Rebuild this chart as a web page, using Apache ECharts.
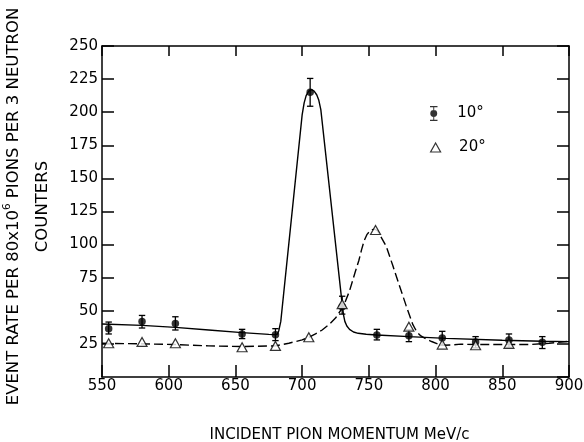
<!DOCTYPE html>
<html><head><meta charset="utf-8">
<script src="https://cdn.jsdelivr.net/npm/echarts@6/dist/echarts.min.js"></script>
<style>html,body{margin:0;padding:0;background:#fff}#c{width:584px;height:442px}</style>
</head><body><div id="c"></div>
<script>
// ---- data ----
const xMin = 550, xMax = 900, xStep = 50;
const yMin = 0, yMax = 250, yStep = 25;

// 10 degrees: measured points with error bars
const momentum10 = [555, 580, 605, 655, 680, 706, 730, 756, 780, 805, 830, 855, 880];
const rate10     = [36.5, 42, 40.5, 32.5, 32, 215, 53, 31.7, 31.2, 29.5, 26.5, 28, 26.2];
const rate10Low  = [32.5, 37, 35.5, 29, 27.5, 204.5, 47.5, 28, 26.7, 24, 22, 22.5, 21.5];
const rate10High = [41.5, 46.5, 45.5, 36, 36.5, 225.5, 61, 36, 35.7, 34.5, 30.5, 32.5, 30.5];

// 20 degrees: measured points
const momentum20 = [555, 580, 605, 655, 680, 705, 730, 755, 780, 805, 830, 855];
const rate20     = [25.5, 26.5, 25.5, 22.5, 23.5, 30, 55, 111, 38, 24.5, 24, 25];

// hand-drawn guide curves
const curve10X = [550, 580, 605, 630, 655, 675, 680, 681.5, 682.5, 684, 700, 701.5, 703, 705, 707, 709, 711, 712.5, 714, 730, 731, 732, 733.5, 735.5, 738.5, 742, 748, 756, 780, 808, 850, 880, 900];
const curve10Y = [40, 39, 37.5, 35.5, 33.5, 32.2, 32, 32.5, 35, 42, 198, 207, 212.5, 216, 217, 216, 213, 209, 202, 55, 47, 42, 38.5, 36, 34, 33, 32.3, 31.7, 30.5, 29.2, 27.8, 27, 26.7];
const curve20X = [550, 580, 605, 630, 655, 680, 690, 700, 705, 710, 715, 720, 725, 731, 735.5, 739.6, 742.5, 744.5, 746.5, 748.5, 750.5, 752.5, 754.5, 756.5, 759, 763, 768, 773, 778, 783, 786, 789, 793, 797, 801, 806, 812, 819, 830, 855, 871, 885, 900];
const curve20Y = [25.5, 25, 24.5, 23.5, 23, 23.5, 25.5, 28, 30, 32.5, 35.5, 39.5, 44.5, 53.5, 65, 78.7, 88, 96, 103, 107.5, 110, 111.3, 111.6, 110.5, 106, 98.7, 84, 68.7, 53.7, 39.5, 34, 31, 28.7, 26.8, 25.2, 24, 24.2, 24.8, 24.5, 24.5, 24.5, 25.5, 27];

const xTitle = 'INCIDENT PION MOMENTUM MeV/c';
const yTitleMain = 'EVENT RATE PER 80x10{sup|6} PIONS PER 3 NEUTRON';
const yTitleSecond = 'COUNTERS';
const legend10 = '10°', legend20 = '20°';

// ---- chart ----
const FONT = 'DejaVu Sans';
const pairs = (xs, ys) => xs.map((x, i) => [x, ys[i]]);
const chart = echarts.init(document.getElementById('c'), null, {renderer: 'canvas'});

const axisLine = {show: true, onZero: false, lineStyle: {color: '#000', width: 1.5}};
const labelStyle = {color: '#000', fontFamily: FONT, fontSize: 15};

const option = {
  backgroundColor: '#fff',
  animation: false,
  grid: {left: 102, right: 15, top: 46, bottom: 65, containLabel: false, outerBoundsMode: 'none'},
  xAxis: [
    {type: 'value', position: 'bottom', min: xMin, max: xMax, interval: xStep,
     axisLine, axisTick: {show: true, inside: true, length: 12, lineStyle: {color: '#000', width: 1.5}},
     axisLabel: Object.assign({margin: 2}, labelStyle), splitLine: {show: false},
     name: xTitle, nameLocation: 'middle', nameGap: 50,
     nameTextStyle: {color: '#000', fontFamily: FONT, fontSize: 15, lineHeight: 16, padding: [0, 0, 0, 8]}},
    {type: 'value', position: 'top', min: xMin, max: xMax, interval: xStep,
     axisLine, axisTick: {show: true, inside: true, length: 10, lineStyle: {color: '#000', width: 1.5}},
     axisLabel: {show: false}, splitLine: {show: false}}
  ],
  yAxis: [
    {type: 'value', position: 'left', min: yMin, max: yMax, interval: yStep,
     axisLine, axisTick: {show: true, inside: true, length: 12, lineStyle: {color: '#000', width: 1.5}},
     axisLabel: Object.assign({margin: 4, showMinLabel: false}, labelStyle), splitLine: {show: false},
     name: yTitleMain + '\n' + yTitleSecond, nameLocation: 'middle', nameRotate: 90, nameGap: 45,
     nameTextStyle: {color: '#000', fontFamily: FONT, fontSize: 16.5, lineHeight: 29, align: 'center',
       padding: [0, 0, 0, 10],
       rich: {sup: {fontFamily: FONT, fontSize: 10.5, color: '#000', padding: [0, 0, 12, 0]}}}},
    {type: 'value', position: 'right', min: yMin, max: yMax, interval: yStep,
     axisLine, axisTick: {show: true, inside: true, length: 12, lineStyle: {color: '#000', width: 1.5}},
     axisLabel: {show: false}, splitLine: {show: false}}
  ],
  legend: [
    {data: [{name: legend10, icon: 'path://M0,0H8V1.4H0Z M3.5,0H4.5V16H3.5Z M0,14.6H8V16H0Z M4,4.3A3.7,3.7,0,1,1,3.99,4.3Z'}],
     left: 425, top: 101, itemWidth: 25, itemHeight: 15, selectedMode: false,
     textStyle: {color: '#000', fontFamily: FONT, fontSize: 15, padding: [0, 0, 0, 6]}},
    {data: [{name: legend20, icon: 'path://M5,0L10,9L0,9Z'}],
     left: 425, top: 135, itemWidth: 25, itemHeight: 9, selectedMode: false,
     itemStyle: {color: '#fff', borderColor: '#000', borderWidth: 1.2},
     textStyle: {color: '#000', fontFamily: FONT, fontSize: 15, padding: [0, 0, 0, 6]}}
  ],
  series: [
    {name: 'curve10', type: 'line', data: pairs(curve10X, curve10Y), showSymbol: false, symbol: 'none',
     smooth: false, lineStyle: {color: '#000', width: 1.4}, silent: true, z: 2},
    {name: 'curve20', type: 'line', data: pairs(curve20X, curve20Y), showSymbol: false, symbol: 'none',
     smooth: false, lineStyle: {color: '#000', width: 1.4, type: [9, 4]}, silent: true, z: 2},
    {name: 'err10', type: 'custom', data: momentum10.map((x, i) => [x, rate10Low[i], rate10High[i]]),
     encode: {x: 0, y: [1, 2]}, z: 3,
     renderItem(params, api) {
       const x = api.value(0);
       const lo = api.coord([x, api.value(1)]);
       const hi = api.coord([x, api.value(2)]);
       const hw = 3.2;
       const style = {stroke: '#000', lineWidth: 1.3, fill: null};
       return {type: 'group', children: [
         {type: 'line', shape: {x1: lo[0], y1: lo[1], x2: hi[0], y2: hi[1]}, style},
         {type: 'line', shape: {x1: lo[0] - hw, y1: lo[1], x2: lo[0] + hw, y2: lo[1]}, style},
         {type: 'line', shape: {x1: hi[0] - hw, y1: hi[1], x2: hi[0] + hw, y2: hi[1]}, style}
       ]};
     }},
    {name: legend10, type: 'scatter', data: pairs(momentum10, rate10), symbol: 'circle', symbolSize: 7.5,
     itemStyle: {color: '#000'}, z: 4},
    {name: legend20, type: 'scatter', data: pairs(momentum20, rate20), symbol: 'triangle', symbolSize: [10, 9],
     itemStyle: {color: '#fff', borderColor: '#000', borderWidth: 1.2}, z: 5}
  ]
};
chart.setOption(option);
</script>
</body></html>
